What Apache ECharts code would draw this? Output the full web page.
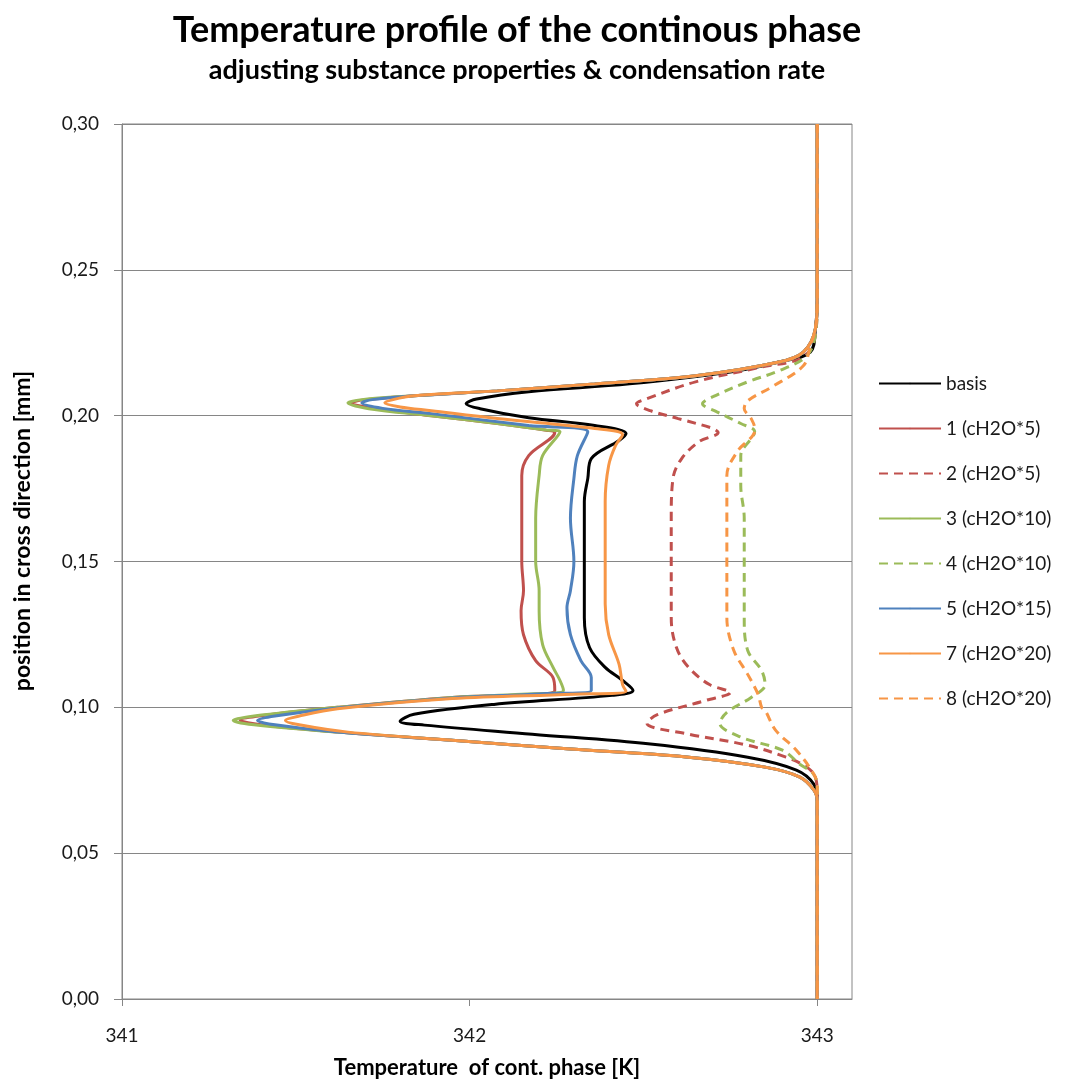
<!DOCTYPE html>
<html>
<head>
<meta charset="utf-8">
<script src="https://cdn.jsdelivr.net/npm/echarts@6/dist/echarts.min.js"></script>
<style>
  html, body { margin: 0; padding: 0; background: #fff; }
  #chart_box { width: 1069px; height: 1084px; }
</style>
</head>
<body>
<div id="chart_box"></div>
<script>
// [temperature K, position mm], top to bottom
let basis = [
    [343.0, 0.300], [343.0, 0.240], [342.995, 0.230], [342.98, 0.2218], [342.89, 0.2184],
    [342.75, 0.2150], [342.46, 0.2109], [342.17, 0.2082], [342.02, 0.2057], [341.99, 0.2041],
    [342.03, 0.2024], [342.17, 0.1993], [342.36, 0.1966], [342.45, 0.1939], [342.43, 0.1915],
    [342.35, 0.1853], [342.34, 0.1785], [342.33, 0.1706], [342.33, 0.1500], [342.33, 0.1307],
    [342.345, 0.1205], [342.39, 0.1137], [342.44, 0.1092], [342.47, 0.1058], [342.41, 0.1041],
    [342.07, 0.1010], [341.84, 0.0976], [341.80, 0.0952], [341.87, 0.0939], [342.18, 0.0908],
    [342.52, 0.0874], [342.80, 0.0829], [342.94, 0.0785], [342.99, 0.0737], [343.0, 0.0680],
    [343.0, 0.0]
];
let run1 = [
    [343.0, 0.300], [343.0, 0.240], [342.995, 0.230], [342.96, 0.2218], [342.89, 0.2184],
    [342.65, 0.2137], [342.36, 0.2109], [342.08, 0.2085], [341.84, 0.2068], [341.70, 0.2055],
    [341.66, 0.2044], [341.72, 0.2026], [341.89, 0.2000], [342.08, 0.1973], [342.22, 0.1950],
    [342.245, 0.1943], [342.17, 0.1863], [342.15, 0.1795], [342.15, 0.1648], [342.15, 0.1500],
    [342.155, 0.1400], [342.148, 0.1331], [342.155, 0.1249], [342.19, 0.1160], [342.24, 0.1102],
    [342.245, 0.1058], [342.15, 0.1043], [341.95, 0.1034], [341.62, 0.1000], [341.40, 0.0971],
    [341.34, 0.0956], [341.40, 0.0940], [341.62, 0.0915], [341.95, 0.0887], [342.29, 0.0857],
    [342.63, 0.0829], [342.85, 0.0795], [342.95, 0.0761], [342.99, 0.0717], [343.0, 0.0680],
    [343.0, 0.0]
];
let run2 = [
    [343.0, 0.300], [343.0, 0.240], [342.995, 0.228], [342.96, 0.2201], [342.84, 0.2167],
    [342.65, 0.2116], [342.51, 0.2058], [342.48, 0.2041], [342.52, 0.2017], [342.60, 0.1990],
    [342.70, 0.1956], [342.715, 0.1942], [342.66, 0.1911], [342.61, 0.1853], [342.585, 0.1785],
    [342.58, 0.1648], [342.58, 0.1500], [342.58, 0.1307], [342.595, 0.1205], [342.63, 0.1137],
    [342.69, 0.1078], [342.75, 0.1051], [342.68, 0.1024], [342.54, 0.0975], [342.51, 0.0945],
    [342.63, 0.0908], [342.80, 0.0870], [342.91, 0.0829], [342.97, 0.0795], [342.995, 0.0760],
    [343.0, 0.0700], [343.0, 0.0]
];
let run3 = [
    [343.0, 0.300], [343.0, 0.240], [342.995, 0.230], [342.96, 0.2218], [342.89, 0.2184],
    [342.65, 0.2137], [342.36, 0.2109], [342.08, 0.2085], [341.84, 0.2068], [341.69, 0.2055],
    [341.65, 0.2044], [341.71, 0.2024], [341.89, 0.2000], [342.08, 0.1973], [342.22, 0.1951],
    [342.26, 0.1945], [342.21, 0.1863], [342.20, 0.1795], [342.19, 0.1648], [342.19, 0.1500],
    [342.20, 0.1400], [342.20, 0.1330], [342.21, 0.1215], [342.24, 0.1137], [342.26, 0.1092],
    [342.27, 0.1058], [342.15, 0.1045], [341.95, 0.1034], [341.62, 0.1000], [341.38, 0.0970],
    [341.32, 0.0955], [341.38, 0.0940], [341.62, 0.0915], [341.95, 0.0887], [342.29, 0.0857],
    [342.63, 0.0829], [342.85, 0.0795], [342.95, 0.0761], [342.99, 0.0717], [343.0, 0.0680],
    [343.0, 0.0]
];
let run4 = [
    [343.0, 0.300], [343.0, 0.240], [342.995, 0.228], [342.97, 0.2205], [342.89, 0.2154],
    [342.80, 0.2116], [342.70, 0.2065], [342.67, 0.2041], [342.71, 0.2014], [342.78, 0.1973],
    [342.82, 0.1945], [342.78, 0.1863], [342.78, 0.1761], [342.79, 0.1648], [342.79, 0.1500],
    [342.79, 0.1307], [342.80, 0.1195], [342.84, 0.1126], [342.85, 0.1078], [342.81, 0.1034],
    [342.74, 0.0983], [342.72, 0.0945], [342.78, 0.0898], [342.90, 0.0853], [342.95, 0.0805],
    [342.99, 0.0770], [343.0, 0.0720], [343.0, 0.0]
];
let run5 = [
    [343.0, 0.300], [343.0, 0.240], [342.995, 0.230], [342.96, 0.2218], [342.89, 0.2184],
    [342.65, 0.2137], [342.36, 0.2109], [342.08, 0.2085], [341.84, 0.2068], [341.72, 0.2055],
    [341.69, 0.2044], [341.75, 0.2025], [341.89, 0.2007], [342.17, 0.1966], [342.34, 0.1945],
    [342.31, 0.1863], [342.30, 0.1785], [342.29, 0.1648], [342.30, 0.1500], [342.29, 0.1400],
    [342.28, 0.1341], [342.29, 0.1249], [342.32, 0.1160], [342.35, 0.1102], [342.35, 0.1058],
    [342.20, 0.1046], [341.95, 0.1032], [341.62, 0.0998], [341.44, 0.0970], [341.39, 0.0955],
    [341.44, 0.0940], [341.62, 0.0915], [341.95, 0.0887], [342.29, 0.0857], [342.63, 0.0829],
    [342.85, 0.0795], [342.95, 0.0761], [342.99, 0.0717], [343.0, 0.0680], [343.0, 0.0]
];
let run7 = [
    [343.0, 0.300], [343.0, 0.240], [342.995, 0.230], [342.96, 0.2218], [342.89, 0.2184],
    [342.65, 0.2137], [342.36, 0.2109], [342.08, 0.2085], [341.84, 0.2068], [341.78, 0.2055],
    [341.756, 0.2044], [341.80, 0.2030], [341.89, 0.2017], [342.08, 0.1990], [342.36, 0.1956],
    [342.44, 0.1935], [342.42, 0.1898], [342.40, 0.1829], [342.39, 0.1706], [342.39, 0.1500],
    [342.39, 0.1354], [342.40, 0.1249], [342.43, 0.1147], [342.44, 0.1078], [342.45, 0.1055],
    [342.30, 0.1045], [341.95, 0.1030], [341.62, 0.0995], [341.51, 0.0970], [341.47, 0.0955],
    [341.51, 0.0940], [341.65, 0.0915], [341.95, 0.0887], [342.29, 0.0857], [342.63, 0.0829],
    [342.85, 0.0795], [342.95, 0.0761], [342.99, 0.0717], [343.0, 0.0680], [343.0, 0.0]
];
let run8 = [
    [343.0, 0.300], [343.0, 0.240], [342.995, 0.230], [342.98, 0.2239], [342.96, 0.2171],
    [342.87, 0.2099], [342.80, 0.2051], [342.79, 0.2024], [342.81, 0.1990], [342.82, 0.1956],
    [342.82, 0.1949], [342.77, 0.1877], [342.74, 0.1795], [342.74, 0.1648], [342.74, 0.1500],
    [342.74, 0.1307], [342.76, 0.1195], [342.80, 0.1113], [342.83, 0.1044], [342.84, 0.1000],
    [342.85, 0.0990], [342.88, 0.0922], [342.94, 0.0853], [342.99, 0.0771], [343.0, 0.0730],
    [343.0, 0.0]
];

let seriesNames = ['basis', '1 (cH2O*5)', '2 (cH2O*5)', '3 (cH2O*10)', '4 (cH2O*10)', '5 (cH2O*15)', '7 (cH2O*20)', '8 (cH2O*20)'];
let seriesData = [basis, run1, run2, run3, run4, run5, run7, run8];
let seriesColors = ['#000000', '#C0504D', '#C0504D', '#9BBB59', '#9BBB59', '#4F81BD', '#F79646', '#F79646'];
let seriesDashed = [false, false, true, false, true, false, false, true];

let xTicks = [341, 342, 343];

let font = 'Lato, "Noto Sans", sans-serif';
let gray = '#868686';

let myChart = echarts.init(document.getElementById('chart_box'));

let option = {
    animation: false,
    backgroundColor: '#fff',
    title: [
        {
            text: 'Temperature profile of the continous phase',
            left: 512,
            top: 7,
            textAlign: 'center',
            textStyle: { fontFamily: font, fontWeight: 'bold', fontSize: 36, color: '#000' }
        },
        {
            text: 'adjusting substance properties & condensation rate',
            left: 512,
            top: 52,
            textAlign: 'center',
            textStyle: { fontFamily: font, fontWeight: 'bold', fontSize: 27, color: '#000' }
        }
    ],
    legend: {
        orient: 'vertical',
        left: 873,
        top: 369,
        itemWidth: 62,
        itemHeight: 2,   // keeps the circle marker hidden under the line
        itemGap: 26,
        data: seriesNames,
        textStyle: { fontFamily: font, fontSize: 19, color: '#1a1a1a' }
    },
    grid: {
        left: 122,
        right: 217,
        top: 124,
        bottom: 81,
        show: true,
        borderColor: gray,
        borderWidth: 1
    },
    xAxis: {
        type: 'value',
        min: 341,
        max: 343.1,
        interval: 1,
        name: 'Temperature  of cont. phase [K]',
        nameLocation: 'middle',
        nameGap: 58,
        nameTextStyle: { fontFamily: font, fontWeight: 'bold', fontSize: 22, color: '#000' },
        axisLine: { lineStyle: { color: gray } },
        axisTick: { show: true, length: 7, lineStyle: { color: gray }, customValues: xTicks },
        axisLabel: {
            fontFamily: font, fontSize: 19, color: '#1a1a1a', margin: 27,
            customValues: xTicks
        },
        splitLine: { show: false }
    },
    yAxis: {
        type: 'value',
        min: 0,
        max: 0.3,
        interval: 0.05,
        axisLine: { show: true, lineStyle: { color: gray } },
        axisTick: { show: true, length: 8, lineStyle: { color: gray } },
        axisLabel: {
            fontFamily: font, fontSize: 19, color: '#1a1a1a', margin: 23,
            formatter: function (v) { return v.toFixed(2).replace('.', ','); }
        },
        splitLine: { lineStyle: { color: gray, width: 1 } }
    },
    graphic: [
        {
            type: 'text',
            x: 23,
            y: 531,
            rotation: Math.PI / 2,
            style: {
                text: 'position in cross direction [mm]',
                fontFamily: font,
                fontWeight: 'bold',
                fontSize: 23,
                fill: '#000',
                align: 'center',
                verticalAlign: 'middle'
            }
        }
    ],
    series: seriesNames.map(function (name, i) {
        return {
            name: name,
            type: 'line',
            data: seriesData[i],
            smooth: 0.35,
            symbol: 'none',
            color: seriesColors[i],
            lineStyle: {
                width: 3,
                color: seriesColors[i],
                type: seriesDashed[i] ? [9, 6] : 'solid'
            }
        };
    })
};

myChart.setOption(option);
</script>
</body>
</html>
